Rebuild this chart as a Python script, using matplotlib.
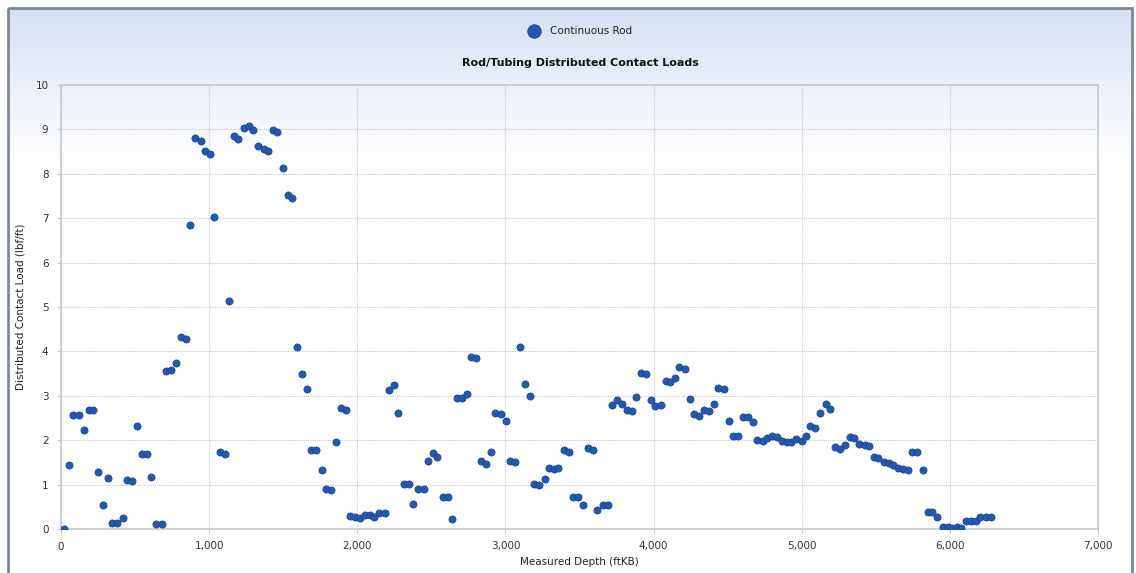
import matplotlib.pyplot as plt
import numpy as np
from matplotlib.patches import Rectangle
from matplotlib.ticker import FuncFormatter

# measured depth (ftKB) and distributed contact load (lbf/ft)
depth = [22, 54, 83, 121, 155, 187, 218, 247, 285, 317, 346, 380, 418, 447, 481,
         510, 548, 582, 609, 641, 679, 710, 742, 773, 809, 843, 872, 904, 942, 973,
         1005, 1034, 1072, 1106, 1133, 1165, 1196, 1236, 1268, 1299, 1328, 1367, 1398,
         1430, 1461, 1497, 1529, 1560, 1591, 1627, 1661, 1690, 1724, 1760, 1792, 1823,
         1854, 1888, 1922, 1952, 1987, 2021, 2052, 2084, 2115, 2146, 2185, 2216, 2247,
         2277, 2313, 2347, 2378, 2409, 2448, 2477, 2508, 2540, 2576, 2610, 2639, 2670,
         2709, 2740, 2769, 2803, 2837, 2870, 2902, 2931, 2972, 3003, 3032, 3066, 3095,
         3133, 3165, 3194, 3228, 3266, 3295, 3326, 3358, 3394, 3427, 3459, 3491, 3527,
         3556, 3589, 3619, 3657, 3691, 3720, 3751, 3788, 3820, 3852, 3882, 3918, 3951,
         3983, 4012, 4051, 4082, 4113, 4145, 4174, 4214, 4243, 4275, 4307, 4343, 4376,
         4405, 4437, 4475, 4506, 4536, 4570, 4603, 4639, 4668, 4700, 4736, 4765, 4799,
         4830, 4866, 4900, 4931, 4963, 4999, 5030, 5059, 5093, 5123, 5163, 5194, 5224,
         5257, 5293, 5325, 5356, 5386, 5425, 5457, 5487, 5518, 5554, 5587, 5617, 5649,
         5686, 5718, 5747, 5781, 5819, 5851, 5880, 5912, 5956, 5986, 6015, 6046, 6075,
         6111, 6143, 6175, 6206, 6242, 6276]
load = [0.00, 1.44, 2.56, 2.56, 2.22, 2.69, 2.67, 1.29, 0.55, 1.14, 0.14, 0.14, 0.24, 1.11, 1.08,
        2.33, 1.68, 1.68, 1.17, 0.11, 0.11, 3.56, 3.59, 3.75, 4.32, 4.27, 6.84, 8.81, 8.73, 8.52,
        8.45, 7.03, 1.74, 1.68, 5.14, 8.86, 8.78, 9.03, 9.07, 8.98, 8.63, 8.55, 8.52,
        8.99, 8.94, 8.13, 7.52, 7.46, 4.09, 3.49, 3.16, 1.79, 1.79, 1.32, 0.91, 0.88,
        1.95, 2.72, 2.67, 0.30, 0.26, 0.24, 0.32, 0.32, 0.27, 0.37, 0.37, 3.13, 3.24,
        2.61, 1.02, 1.02, 0.57, 0.91, 0.91, 1.53, 1.71, 1.63, 0.71, 0.71, 0.23, 2.95,
        2.95, 3.03, 3.88, 3.85, 1.53, 1.47, 1.74, 2.61, 2.59, 2.43, 1.53, 1.50, 4.11,
        3.26, 3.00, 1.02, 0.99, 1.12, 1.38, 1.35, 1.38, 1.77, 1.74, 0.71, 0.71, 0.55,
        1.82, 1.79, 0.42, 0.55, 0.55, 2.80, 2.90, 2.82, 2.69, 2.66, 2.98, 3.52, 3.49,
        2.90, 2.77, 2.80, 3.34, 3.31, 3.39, 3.65, 3.60, 2.92, 2.59, 2.55, 2.69, 2.66,
        2.82, 3.18, 3.15, 2.43, 2.09, 2.09, 2.53, 2.53, 2.40, 2.01, 1.98, 2.05, 2.10,
        2.07, 1.98, 1.96, 1.96, 2.02, 1.98, 2.10, 2.31, 2.28, 2.61, 2.82, 2.71, 1.84,
        1.81, 1.89, 2.07, 2.05, 1.92, 1.89, 1.86, 1.63, 1.61, 1.51, 1.48, 1.45, 1.38,
        1.35, 1.32, 1.74, 1.74, 1.32, 0.38, 0.38, 0.27, 0.05, 0.05, 0.03, 0.05, 0.03,
        0.17, 0.17, 0.19, 0.27, 0.27, 0.27]

W, H = 1136, 573
fig = plt.figure(figsize=(W / 100, H / 100), dpi=100)
fig.patch.set_facecolor('white')

# pale blue gradient behind everything, inside a grey frame
bg = fig.add_axes([0, 0, 1, 1], zorder=-2)
bg.set_xlim(0, W)
bg.set_ylim(H, 0)
bg.axis('off')
rows = np.linspace(0, 1, 200)[:, None]
top = np.array([0.84, 0.88, 0.95])
grad = top + (1 - top) * np.clip(rows, 0, 1)[:, :, None]
bg.imshow(grad, extent=[8, 1132, 160, 8], aspect='auto', interpolation='bilinear')
bg.add_patch(Rectangle((8, 160), 1124, H, facecolor='white', edgecolor='none'))
bg.add_patch(Rectangle((8, 8), 1124, H + 20, facecolor='none', edgecolor='#7d8796', lw=2))

ax = fig.add_axes([61 / W, 1 - 529 / H, (1098 - 61) / W, (529 - 85) / H])
ax.set_facecolor('none')
ax.scatter(depth, load, s=26, color='#2459b0', edgecolors='#1a4594', linewidths=0.6,
           zorder=3, label='Continuous Rod')

ax.set_xlim(0, 7000)
ax.set_ylim(0, 10)
ax.set_xticks(np.arange(0, 7001, 1000))
ax.set_yticks(np.arange(0, 11, 1))
ax.xaxis.set_major_formatter(FuncFormatter(lambda v, p: f'{int(v):,}'))
ax.grid(True, color='#c4c8cc', linestyle=(0, (1, 1)), linewidth=0.8)
ax.set_axisbelow(True)
ax.tick_params(colors='#c4c8cc', labelcolor='#333333', labelsize=7.5, length=3)
ax.tick_params(axis='x', pad=6)
ax.tick_params(axis='y', pad=6)
for s in ax.spines.values():
    s.set_color('#c3c9d1')
    s.set_linewidth(1.2)

ax.set_xlabel('Measured Depth (ftKB)', fontsize=7.5, color='#222222', labelpad=4)
ax.set_ylabel('Distributed Contact Load (lbf/ft)', fontsize=7.5, color='#222222', labelpad=7)

fig.text(580 / W, 1 - 63 / H, 'Rod/Tubing Distributed Contact Loads', ha='center', va='center',
         fontsize=8, fontweight='bold', color='#111111')
fig.legend(loc='center', bbox_to_anchor=(578 / W, 1 - 31 / H), frameon=False,
           fontsize=7.5, markerscale=1.9, handletextpad=0.6, labelcolor='#222222')

fig.savefig('out.png', dpi=100)
